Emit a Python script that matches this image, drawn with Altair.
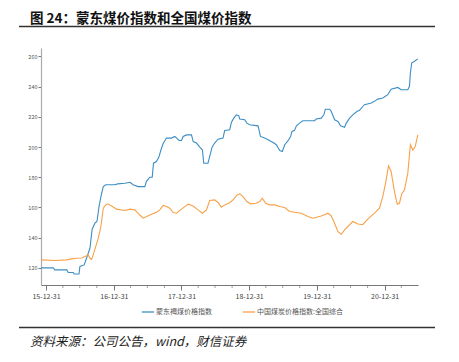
import altair as alt
import pandas as pd

blue_dates = ["2015-12-04","2016-02-08","2016-02-17","2016-04-21","2016-04-29","2016-05-26","2016-05-31","2016-06-26",
"2016-07-01","2016-07-24","2016-08-06","2016-08-24","2016-09-05","2016-09-20","2016-10-01","2016-10-12","2016-10-22",
"2016-11-04","2016-11-17","2017-01-06","2017-01-20","2017-03-01","2017-03-28","2017-04-14","2017-05-11","2017-06-16",
"2017-06-25","2017-07-13","2017-07-26","2017-08-02","2017-08-18","2017-08-31","2017-09-11","2017-09-23","2017-10-11",
"2017-11-07","2017-11-25","2017-12-18","2017-12-31","2018-01-09","2018-01-27","2018-02-23","2018-03-04","2018-03-22",
"2018-04-09","2018-04-23","2018-04-30","2018-05-23","2018-06-01","2018-06-14","2018-06-28","2018-07-16","2018-08-12",
"2018-08-21","2018-09-17","2018-09-26","2018-10-09","2018-10-23","2018-11-05","2018-11-10","2018-12-07","2018-12-19",
"2019-01-03","2019-02-17","2019-03-02","2019-03-25","2019-04-12","2019-05-09","2019-05-27","2019-06-14","2019-06-28",
"2019-07-11","2019-07-28","2019-08-12","2019-08-19","2019-09-02","2019-09-12","2019-09-29","2019-10-17","2019-12-19",
"2019-12-28","2020-01-24","2020-02-07","2020-02-15","2020-03-09","2020-03-18","2020-04-05","2020-04-23","2020-05-07",
"2020-05-29","2020-06-07","2020-06-25","2020-07-12","2020-08-05","2020-08-18","2020-09-04","2020-09-13","2020-10-20",
"2020-11-06","2020-11-24","2020-12-21","2021-01-17","2021-02-04","2021-03-12","2021-03-30","2021-05-05","2021-05-14",
"2021-05-19","2021-05-26","2021-06-10","2021-06-28"]
blue_values = [120,120,118.7,118.7,117,117,116,116,
121,122,126.6,133,145.6,149.6,150.7,160.6,167,
173.8,175,175,175.6,176,176.7,175,173.8,173.8,
177.3,180,180,189.3,190.4,193.3,198,202.3,205.9,
205.9,207,204.3,204.3,207,208,208,203.6,202.6,
199.9,198,189.3,189.3,193.7,199.9,202.6,205.2,205.9,
210.9,211.4,216.2,219.1,221.3,220.7,218.5,218,215.8,
214.7,214,207,205.9,204.8,203,201.5,197.7,197,
201.5,204,207,210.3,211,214,215.8,217.4,217.4,
218.5,219.1,221.3,225,225,223.6,218,216.9,214,
213.1,215.8,219.1,221.3,223.6,224.3,226.8,228,229.1,
230.2,231.7,232.4,234.6,238.3,239.4,237.9,237.9,240.2,
249,255.6,256.7,258.3]

orange_dates = ["2015-12-04","2016-02-17","2016-04-21","2016-05-17","2016-06-13","2016-07-10","2016-07-28","2016-08-15",
"2016-08-24","2016-09-02","2016-09-16","2016-10-08","2016-10-22","2016-11-04","2016-11-17","2016-11-27","2016-12-19",
"2017-01-15","2017-03-01","2017-03-28","2017-04-23","2017-05-20","2017-06-07","2017-07-13","2017-08-18","2017-09-05",
"2017-09-23","2017-10-11","2017-10-29","2017-11-16","2017-12-04","2017-12-31","2018-02-05","2018-03-04","2018-03-30",
"2018-04-23","2018-05-15","2018-06-01","2018-06-28","2018-07-16","2018-08-03","2018-08-21","2018-09-17","2018-10-05",
"2018-10-27","2018-11-10","2018-11-28","2018-12-19","2019-01-07","2019-02-08","2019-02-26","2019-03-12","2019-03-30",
"2019-04-21","2019-05-18","2019-06-14","2019-07-11","2019-08-06","2019-10-08","2019-11-13","2019-12-10","2020-01-24",
"2020-02-29","2020-03-18","2020-04-05","2020-04-23","2020-05-11","2020-05-29","2020-07-12","2020-08-09","2020-09-04",
"2020-10-01","2020-11-06","2020-12-03","2020-12-21","2021-01-05","2021-01-21","2021-02-04","2021-02-22","2021-03-09",
"2021-03-21","2021-04-02","2021-04-17","2021-05-05","2021-05-19","2021-06-01","2021-06-14","2021-06-28"]
orange_values = [125.3,124.9,125.3,126,126.4,126.6,127.5,128.6,
126.4,125.7,130.8,139.7,147.4,159.5,161.7,162.4,161,
158.9,158,158.9,158.4,155,152.9,155,156.9,158.4,
161.3,160.6,159.5,156.6,156.2,158.9,162.2,161,158.4,
156.2,158.4,164.6,165,163.3,160.2,161.7,163.1,165,
168.3,169,167.2,163.9,162.4,162.8,163.9,166.2,162.8,
161.7,161.7,160.6,160,157.3,156.2,154,152.9,154.4,
156.2,154.4,149.6,144,142.3,145.2,150.7,149,148.6,
152.3,156.2,159.5,167.2,176.1,187.5,183.8,170.5,162.2,
162.8,169,171.7,182.7,201.5,198,200.3,208]

series_names = ["蒙东褐煤价格指数", "中国煤炭价格指数:全国综合"]
series_colors = ["#3d8ec4", "#f7a148"]
year_ticks = ["2015-12-31","2016-12-31","2017-12-31","2018-12-31","2019-12-31","2020-12-31"]
minor_ticks = ["2016-03-31","2016-06-30","2016-09-30","2017-03-31","2017-06-30","2017-09-30",
"2018-03-31","2018-06-30","2018-09-30","2019-03-31","2019-06-30","2019-09-30",
"2020-03-31","2020-06-30","2020-09-30","2021-03-31"]
y_ticks = [120, 140, 160, 180, 200, 220, 240, 260]

title_text = "图 24：蒙东煤价指数和全国煤价指数"
source_text = "资料来源：公司公告，wind，财信证券"

df = pd.concat([
    pd.DataFrame({"date": blue_dates, "value": blue_values, "series": series_names[0]}),
    pd.DataFrame({"date": orange_dates, "value": orange_values, "series": series_names[1]}),
])

W, H = 377, 237
FONT = "Noto Sans CJK SC"

x_scale = alt.Scale(domain=["2015-12-04", "2021-06-29"])
y_scale = alt.Scale(domain=[108.7, 265.5], nice=False, zero=False)

lines = alt.Chart(df).mark_line(strokeWidth=1.1).encode(
    x=alt.X("date:T", scale=x_scale, axis=alt.Axis(
        values=year_ticks, format="%y-%m-%d", title=None, grid=False,
        labelFontSize=7, labelColor="#444", labelFont=FONT, labelPadding=2,
        domainColor="#777", domainWidth=1.2, tickColor="#777", tickSize=5, labelFlush=False)),
    y=alt.Y("value:Q", scale=y_scale, axis=alt.Axis(
        values=y_ticks, title=None, grid=False, labelFontSize=5.5, labelColor="#555",
        labelFont=FONT, domainColor="#aaa", domainWidth=1.2, tickColor="#777", tickSize=3,
        labelPadding=1)),
    color=alt.Color("series:N", sort=series_names,
                    scale=alt.Scale(domain=series_names, range=series_colors),
                    legend=alt.Legend(orient="none", legendX=100, legendY=257, direction="horizontal",
                                      title=None, symbolType="stroke", symbolSize=150,
                                      symbolStrokeWidth=1.3, labelFontSize=7, labelColor="#555",
                                      labelFont=FONT, columnPadding=28, labelOffset=1)),
)

minor_df = pd.DataFrame({"date": minor_ticks})
minor = alt.Chart(minor_df).mark_tick(color="#777", size=3, thickness=1, orient="vertical").encode(
    x=alt.X("date:T", scale=x_scale),
    y=alt.value(H + 1.5),
)

title_df = pd.DataFrame({"t": [title_text]})
title = alt.Chart(title_df).mark_text(align="left", baseline="alphabetic", fontSize=13.5,
                                      fontWeight="bold", font=FONT, color="#111").encode(
    text="t:N", x=alt.value(-11), y=alt.value(-25))
rule_top = alt.Chart(title_df).mark_rule(color="#333", strokeWidth=1.3).encode(
    x=alt.value(-22), x2=alt.value(394), y=alt.value(-21.5))
rule_bot = alt.Chart(title_df).mark_rule(color="#333", strokeWidth=1.3).encode(
    x=alt.value(-22), x2=alt.value(394), y=alt.value(279.5))
src_df = pd.DataFrame({"t": [source_text]})
source = alt.Chart(src_df).mark_text(align="left", baseline="alphabetic", fontSize=12.5,
                                     fontStyle="italic", font=FONT, color="#222").encode(
    text="t:N", x=alt.value(-11), y=alt.value(298))

chart = alt.layer(lines, minor, title, rule_top, rule_bot, source).properties(
    width=W, height=H,
    autosize=alt.AutoSizeParams(type="none"),
    padding={"left": 33, "top": 40, "right": 33, "bottom": 69},
).configure_view(stroke=None).resolve_scale(x="shared")

chart.save("out.html", embed_options={"renderer": "svg", "actions": False})
